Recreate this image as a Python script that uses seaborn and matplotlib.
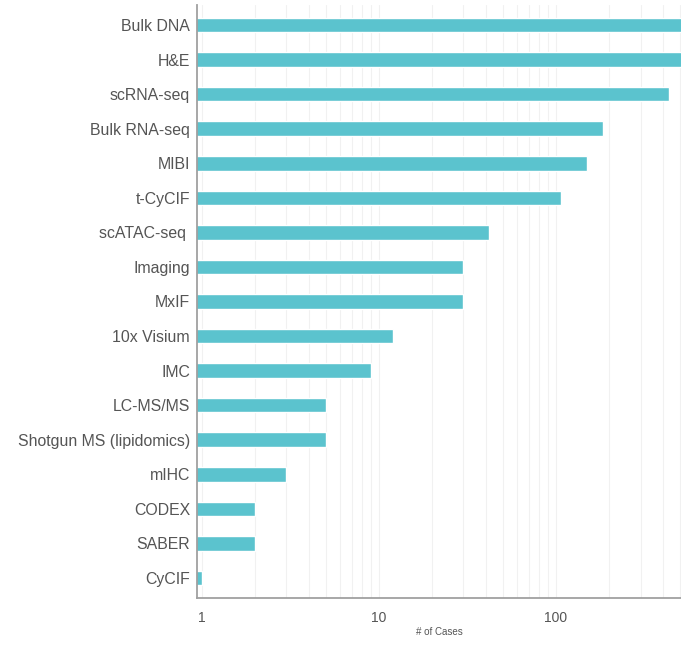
import matplotlib
matplotlib.use("Agg")
import matplotlib.pyplot as plt
import matplotlib.ticker as mticker
import seaborn as sns
import pandas as pd

# Number of cases per assay type
assays = [
    "Bulk DNA", "H&E", "scRNA-seq", "Bulk RNA-seq", "MIBI", "t-CyCIF",
    "scATAC-seq ", "Imaging", "MxIF", "10x Visium", "IMC", "LC-MS/MS",
    "Shotgun MS (lipidomics)", "mIHC", "CODEX", "SABER", "CyCIF",
]
cases = [620, 580, 435, 184, 150, 107, 42, 30, 30, 12, 9, 5, 5, 3, 2, 2, 1]

x_ticks = [1, 10, 100]
x_tick_labels = ["1", "10", "100"]

df = pd.DataFrame({"assay": assays, "cases": cases})

sns.set_style("white")
plt.rcParams["font.family"] = ["Liberation Sans", "DejaVu Sans"]

fig = plt.figure(figsize=(6.81, 6.45), dpi=100)
ax = fig.add_axes([197 / 681, 47 / 645, 484 / 681, 593 / 645])

ax.set_axisbelow(True)
sns.barplot(data=df, x="cases", y="assay", orient="h", color="#5bc3ce",
            saturation=1, width=0.42, ax=ax)

ax.set_xscale("log")
ax.set_xlim(0.937, 508)
ax.set_ylim(len(assays) - 1 + 0.58, -0.58)

ax.xaxis.set_major_locator(mticker.FixedLocator(x_ticks))
ax.xaxis.set_major_formatter(mticker.FixedFormatter(x_tick_labels))
ax.xaxis.set_minor_locator(mticker.LogLocator(base=10, subs=range(2, 10)))
ax.xaxis.set_minor_formatter(mticker.NullFormatter())

ax.grid(True, which="both", axis="x", color="#f1f1f1", linewidth=0.8)

for side in ("top", "right"):
    ax.spines[side].set_visible(False)
for side in ("left", "bottom"):
    ax.spines[side].set_color("#a0a0a0")
    ax.spines[side].set_linewidth(1.3)

ax.tick_params(axis="x", which="major", length=3, color="#c8c8c8",
               labelsize=10, labelcolor="#555555", pad=6)
ax.tick_params(axis="x", which="minor", length=3, color="#d8d8d8")
ax.tick_params(axis="y", length=0, labelsize=11.4, labelcolor="#555555", pad=5)

ax.set_ylabel("")
ax.set_xlabel("# of Cases", fontsize=7, color="#555555", labelpad=2)

fig.savefig("out.png", dpi=100)
